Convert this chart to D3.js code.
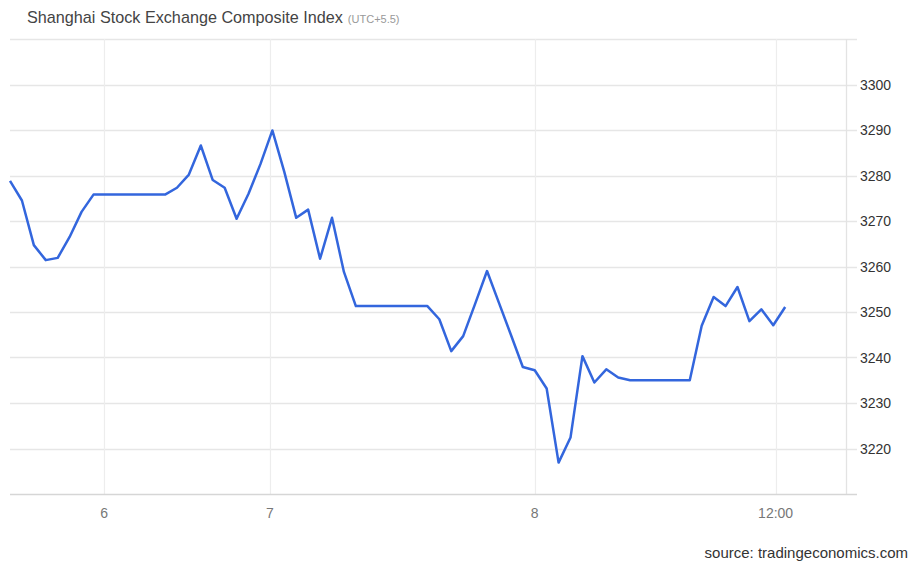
<!DOCTYPE html>
<html>
<head>
<meta charset="utf-8">
<script src="https://cdn.jsdelivr.net/npm/d3@7"></script>
<style>
  body { margin: 0; background: #fff; }
  text { font-family: "Liberation Sans", Arial, sans-serif; }
</style>
</head>
<body>
<div id="chart"></div>
<script>
// index values, one per sample step
var prices = [
  3278.8, 3274.5, 3264.7, 3261.4, 3261.9, 3266.5, 3272.0, 3275.8, 3275.8, 3275.8,
  3275.8, 3275.8, 3275.8, 3275.8, 3277.3, 3280.2, 3286.6, 3279.0, 3277.3, 3270.5,
  3276.0, 3282.5, 3289.9, 3280.8, 3270.7, 3272.5, 3261.7, 3270.7, 3258.8, 3251.3,
  3251.3, 3251.3, 3251.3, 3251.3, 3251.3, 3251.3, 3248.4, 3241.4, 3244.7, 3251.8,
  3259.0, 3252.0, 3245.0, 3237.9, 3237.2, 3233.2, 3216.9, 3222.4, 3240.3, 3234.5,
  3237.4, 3235.6, 3235.0, 3235.0, 3235.0, 3235.0, 3235.0, 3235.0, 3247.0, 3253.3,
  3251.3, 3255.5, 3248.0, 3250.6, 3247.1, 3251.1
];
var xTickAt = [7.9, 21.8, 44.0, 64.2];
var xTickLabels = ['6', '7', '8', '12:00'];
var yTicks = [3220, 3230, 3240, 3250, 3260, 3270, 3280, 3290, 3300];

var W = 912, H = 564;
var svg = d3.select('#chart').append('svg')
  .attr('width', W)
  .attr('height', H);

var x = d3.scaleLinear().domain([0, 70.1]).range([10, 846]);
var y = d3.scaleLinear().domain([3210, 3310]).range([494, 39]);

// title
var title = svg.append('text')
  .attr('x', 27)
  .attr('y', 23)
  .attr('fill', '#444')
  .style('font-size', '16.2px');
title.append('tspan').text('Shanghai Stock Exchange Composite Index');
title.append('tspan')
  .attr('dx', 5)
  .attr('fill', '#999')
  .style('font-size', '11px')
  .text('(UTC+5.5)');

// horizontal grid + top border
svg.selectAll('line.hgrid').data(yTicks.concat([3310]))
  .enter()
    .append('line')
      .attr('class', 'hgrid')
      .attr('x1', 10)
      .attr('x2', 857)
      .attr('y1', function(d) { return Math.round(y(d)) + 0.5; })
      .attr('y2', function(d) { return Math.round(y(d)) + 0.5; })
      .attr('stroke', '#e6e6e6')
      .attr('stroke-width', 1.3);

// vertical grid
svg.selectAll('line.vgrid').data(xTickAt)
  .enter()
    .append('line')
      .attr('class', 'vgrid')
      .attr('x1', function(d) { return Math.round(x(d)) + 0.5; })
      .attr('x2', function(d) { return Math.round(x(d)) + 0.5; })
      .attr('y1', y(3310))
      .attr('y2', y(3210))
      .attr('stroke', '#ededed')
      .attr('stroke-width', 1.2);

// right border
svg.append('line')
  .attr('x1', x(70.1) + 0.5).attr('x2', x(70.1) + 0.5)
  .attr('y1', y(3310)).attr('y2', y(3210))
  .attr('stroke', '#e3e3e3')
  .attr('stroke-width', 1.3);

// bottom axis line
svg.append('line')
  .attr('x1', 10).attr('x2', 857)
  .attr('y1', Math.round(y(3210)) + 0.5).attr('y2', Math.round(y(3210)) + 0.5)
  .attr('stroke', '#d6d6d6')
  .attr('stroke-width', 1.5);

// y labels
svg.selectAll('text.ylab').data(yTicks)
  .enter()
    .append('text')
      .attr('class', 'ylab')
      .attr('x', 860)
      .attr('y', function(d) { return y(d) + 5; })
      .attr('fill', '#333')
      .style('font-size', '14px')
      .text(function(d) { return d; });

// x labels
svg.selectAll('text.xlab').data(xTickAt)
  .enter()
    .append('text')
      .attr('class', 'xlab')
      .attr('x', function(d) { return x(d); })
      .attr('y', 518)
      .attr('text-anchor', 'middle')
      .attr('fill', '#777')
      .style('font-size', '14px')
      .text(function(d, i) { return xTickLabels[i]; });

// price line
var line = d3.line()
  .x(function(d, i) { return x(i); })
  .y(function(d) { return y(d); });

svg.append('path')
  .datum(prices)
  .attr('d', line)
  .attr('fill', 'none')
  .attr('stroke', '#3366dd')
  .attr('stroke-width', 2.5)
  .attr('stroke-linejoin', 'round');

// source
svg.append('text')
  .attr('x', 908)
  .attr('y', 558)
  .attr('text-anchor', 'end')
  .attr('fill', '#333')
  .style('font-size', '15px')
  .text('source: tradingeconomics.com');
</script>
</body>
</html>
